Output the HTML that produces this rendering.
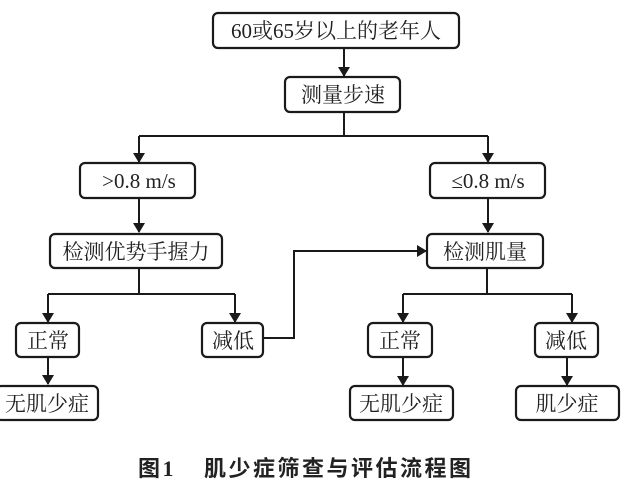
<!DOCTYPE html>
<html><head><meta charset="utf-8"><style>
html,body{margin:0;padding:0;background:#fff;}
svg{display:block;}
text{font-family:"Liberation Serif","Noto Serif CJK SC","Noto Sans CJK SC",serif;font-size:21px;fill:#222;}
.cap{font-weight:bold;font-size:22px;letter-spacing:2.5px;font-family:"Liberation Serif","Noto Sans CJK SC",sans-serif;}
rect{fill:#fff;stroke:#1a1a1a;stroke-width:2.2;}
.l{fill:none;stroke:#1a1a1a;stroke-width:2;}
</style></head><body>
<svg width="626" height="480" viewBox="0 0 626 480">
<defs><marker id="a" markerWidth="10" markerHeight="12" refX="9" refY="6" orient="auto" markerUnits="userSpaceOnUse"><path d="M0,0 L10,6 L0,12 z" fill="#1a1a1a"/></marker></defs>
<path class="l" d="M344,48 V76" marker-end="url(#a)"/>
<path class="l" d="M344,112 V136 M139,136 H488"/>
<path class="l" d="M139,136 V162" marker-end="url(#a)"/>
<path class="l" d="M488,136 V162" marker-end="url(#a)"/>
<path class="l" d="M139,198 V232" marker-end="url(#a)"/>
<path class="l" d="M488,198 V232" marker-end="url(#a)"/>
<path class="l" d="M139,268 V294 M48,294 H235"/>
<path class="l" d="M48,294 V322" marker-end="url(#a)"/>
<path class="l" d="M235,294 V322" marker-end="url(#a)"/>
<path class="l" d="M487,268 V294 M403,294 H572"/>
<path class="l" d="M403,294 V322" marker-end="url(#a)"/>
<path class="l" d="M572,294 V322" marker-end="url(#a)"/>
<path class="l" d="M263,338 H294 V251 H426" marker-end="url(#a)"/>
<path class="l" d="M48,357 V384" marker-end="url(#a)"/>
<path class="l" d="M403,357 V385" marker-end="url(#a)"/>
<path class="l" d="M567,357 V385" marker-end="url(#a)"/>
<rect x="213" y="13" width="246" height="35" rx="5"/>
<text x="336" y="38" text-anchor="middle">60或65岁以上的老年人</text>
<rect x="285" y="77" width="115" height="35" rx="5"/>
<text x="343" y="102" text-anchor="middle">测量步速</text>
<rect x="80" y="163" width="115" height="35" rx="5"/>
<text x="139" y="188" text-anchor="middle">&gt;0.8 m/s</text>
<rect x="430" y="163" width="115" height="35" rx="5"/>
<text x="488" y="188" text-anchor="middle">≤0.8 m/s</text>
<rect x="50" y="234" width="172" height="34" rx="5"/>
<text x="136" y="259" text-anchor="middle">检测优势手握力</text>
<rect x="427" y="234" width="116" height="34" rx="5"/>
<text x="485" y="259" text-anchor="middle">检测肌量</text>
<rect x="16" y="323" width="63" height="34" rx="5"/>
<text x="48" y="348" text-anchor="middle">正常</text>
<rect x="202" y="323" width="61" height="34" rx="5"/>
<text x="233" y="348" text-anchor="middle">减低</text>
<rect x="368" y="323" width="64" height="34" rx="5"/>
<text x="400" y="348" text-anchor="middle">正常</text>
<rect x="535" y="323" width="63" height="34" rx="5"/>
<text x="566" y="348" text-anchor="middle">减低</text>
<rect x="-4" y="386" width="102" height="34" rx="5"/>
<text x="47" y="411" text-anchor="middle">无肌少症</text>
<rect x="350" y="386" width="103" height="34" rx="5"/>
<text x="401" y="411" text-anchor="middle">无肌少症</text>
<rect x="516" y="386" width="103" height="34" rx="5"/>
<text x="567" y="411" text-anchor="middle">肌少症</text>
<text class="cap" x="138" y="476">图1</text>
<text class="cap" x="204" y="476">肌少症筛查与评估流程图</text>
</svg>
</body></html>
